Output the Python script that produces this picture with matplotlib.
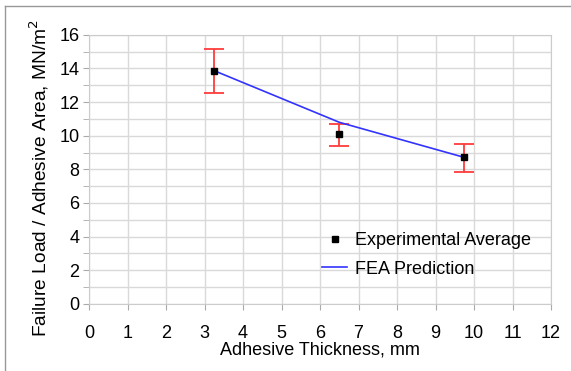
import matplotlib.pyplot as plt
from matplotlib.lines import Line2D

plt.rcParams['font.family'] = ['Liberation Sans', 'DejaVu Sans']

thickness = [3.25, 6.5, 9.75]
exp_avg = [13.87, 10.1, 8.71]
err_low = [1.31, 0.7, 0.85]
err_high = [1.31, 0.61, 0.81]
fea = [13.87, 10.8, 8.71]

fig = plt.figure(figsize=(5.71, 3.71), dpi=100)
ax = fig.add_axes([0.156, 0.181, 0.809, 0.725])

# figure border (left and top edges only)
fig.lines.append(Line2D([0.008, 0.008], [0.0, 0.984], transform=fig.transFigure,
                        color='#999999', linewidth=1.0))
fig.lines.append(Line2D([0.008, 1.0], [0.984, 0.984], transform=fig.transFigure,
                        color='#999999', linewidth=1.0))

ax.plot(thickness, fea, color='#3333ff', linewidth=1.2, label='FEA Prediction', zorder=3)
ax.errorbar(thickness, exp_avg, yerr=[err_low, err_high], fmt='none', ecolor='#ff3b3b',
            elinewidth=1.3, capsize=7, capthick=1.3, zorder=2)
ax.plot(thickness, exp_avg, 's', color='black', markersize=4.5, linestyle='none',
        label='Experimental Average', zorder=4)

ax.set_xlim(0, 12)
ax.set_ylim(0, 16)
ax.set_xticks(range(0, 13))
ax.set_yticks(range(0, 17, 2))
ax.set_yticks(range(0, 17), minor=True)
ax.grid(True, which='both', color='#d9d9d9', linewidth=1.0)
ax.set_axisbelow(True)
for s in ax.spines.values():
    s.set_color('#cccccc')
ax.tick_params(which='both', colors='#aaaaaa', labelcolor='black', labelsize=13, length=4)
ax.tick_params(axis='x', pad=11)
ax.tick_params(axis='y', pad=3)

ax.set_xlabel('Adhesive Thickness, mm', fontsize=13, labelpad=0)
ax.set_ylabel('Failure Load / Adhesive Area, MN/m$^2$', fontsize=13.8)
ax.yaxis.set_label_coords(-0.082, 0.468)

h, l = ax.get_legend_handles_labels()
ax.legend(h[::-1], l[::-1], loc='center left', bbox_to_anchor=(0.504, 0.182), frameon=False,
          fontsize=13, handlelength=1.4, handletextpad=0.45, labelspacing=0.65,
          borderpad=0, borderaxespad=0)

fig.savefig('out.png', dpi=100)
